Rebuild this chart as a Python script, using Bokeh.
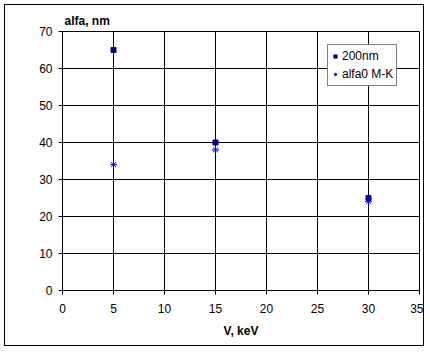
from bokeh.plotting import figure
from bokeh.models import Range1d, FixedTicker, Legend, LegendItem
from bokeh.embed import file_html
from bokeh.resources import INLINE

# data
v_kev = [5, 15, 30]
alfa_200nm = [65, 40, 25]
alfa0_mk = [34, 38, 24]
x_ticks = [0, 5, 10, 15, 20, 25, 30, 35]
y_ticks = [0, 10, 20, 30, 40, 50, 60, 70]
series_names = ["200nm", "alfa0 M-K"]
x_title = "V, keV"
y_title = "alfa, nm"

FONT = "Liberation Sans"

p = figure(width=420, height=342, output_backend="svg", toolbar_location=None,
           x_range=Range1d(0, 35), y_range=Range1d(0, 70),
           min_border_left=57, min_border_right=6, min_border_top=26, min_border_bottom=57,
           title=y_title)
p.styles = {"margin-left": "4px", "margin-top": "4px", "border": "1px solid black"}

p.title.align = "left"
p.title.text_font = FONT
p.title.text_font_size = "12px"
p.title.text_font_style = "bold"
p.title.text_color = "black"
p.title.offset = 2
p.title.standoff = 7

p.outline_line_color = "black"
p.outline_line_width = 1
p.background_fill_color = "white"
p.border_fill_color = "white"

for ax in (p.xaxis, p.yaxis):
    ax.axis_line_color = "black"
    ax.major_tick_line_color = "black"
    ax.major_tick_out = 4
    ax.major_tick_in = 0
    ax.minor_tick_line_color = None
    ax.major_label_text_font = FONT
    ax.major_label_text_font_size = "12px"
    ax.major_label_text_color = "black"

p.xaxis.ticker = FixedTicker(ticks=x_ticks)
p.yaxis.ticker = FixedTicker(ticks=y_ticks)
p.xaxis.major_label_standoff = 9
p.yaxis.major_label_standoff = 6

p.xaxis.axis_label = x_title
p.xaxis.axis_label_text_font = FONT
p.xaxis.axis_label_text_font_size = "12px"
p.xaxis.axis_label_text_font_style = "bold"
p.xaxis.axis_label_text_color = "black"
p.xaxis.axis_label_standoff = 8

p.grid.grid_line_color = "black"
p.grid.grid_line_width = 1
p.xgrid.ticker = FixedTicker(ticks=x_ticks)
p.ygrid.ticker = FixedTicker(ticks=y_ticks)

r1 = p.scatter(v_kev, alfa_200nm, marker="square", size=5,
               fill_color="#000080", line_color="#000080")
r2 = p.scatter(v_kev, alfa0_mk, marker="asterisk", size=7,
               line_color="#0000FF", line_width=1)

legend = Legend(items=[LegendItem(label=series_names[0], renderers=[r1]),
                       LegendItem(label=series_names[1], renderers=[r2])],
                location=(265, 204))
legend.border_line_color = "black"
legend.border_line_width = 1
legend.background_fill_color = "white"
legend.background_fill_alpha = 1
legend.label_text_font = FONT
legend.label_text_font_size = "12px"
legend.label_text_color = "black"
legend.glyph_width = 8
legend.glyph_height = 10
legend.label_standoff = 3
legend.label_height = 16
legend.spacing = 2
legend.padding = 3
legend.margin = 0
p.add_layout(legend, "center")

open("out.html", "w").write(file_html(p, INLINE))
